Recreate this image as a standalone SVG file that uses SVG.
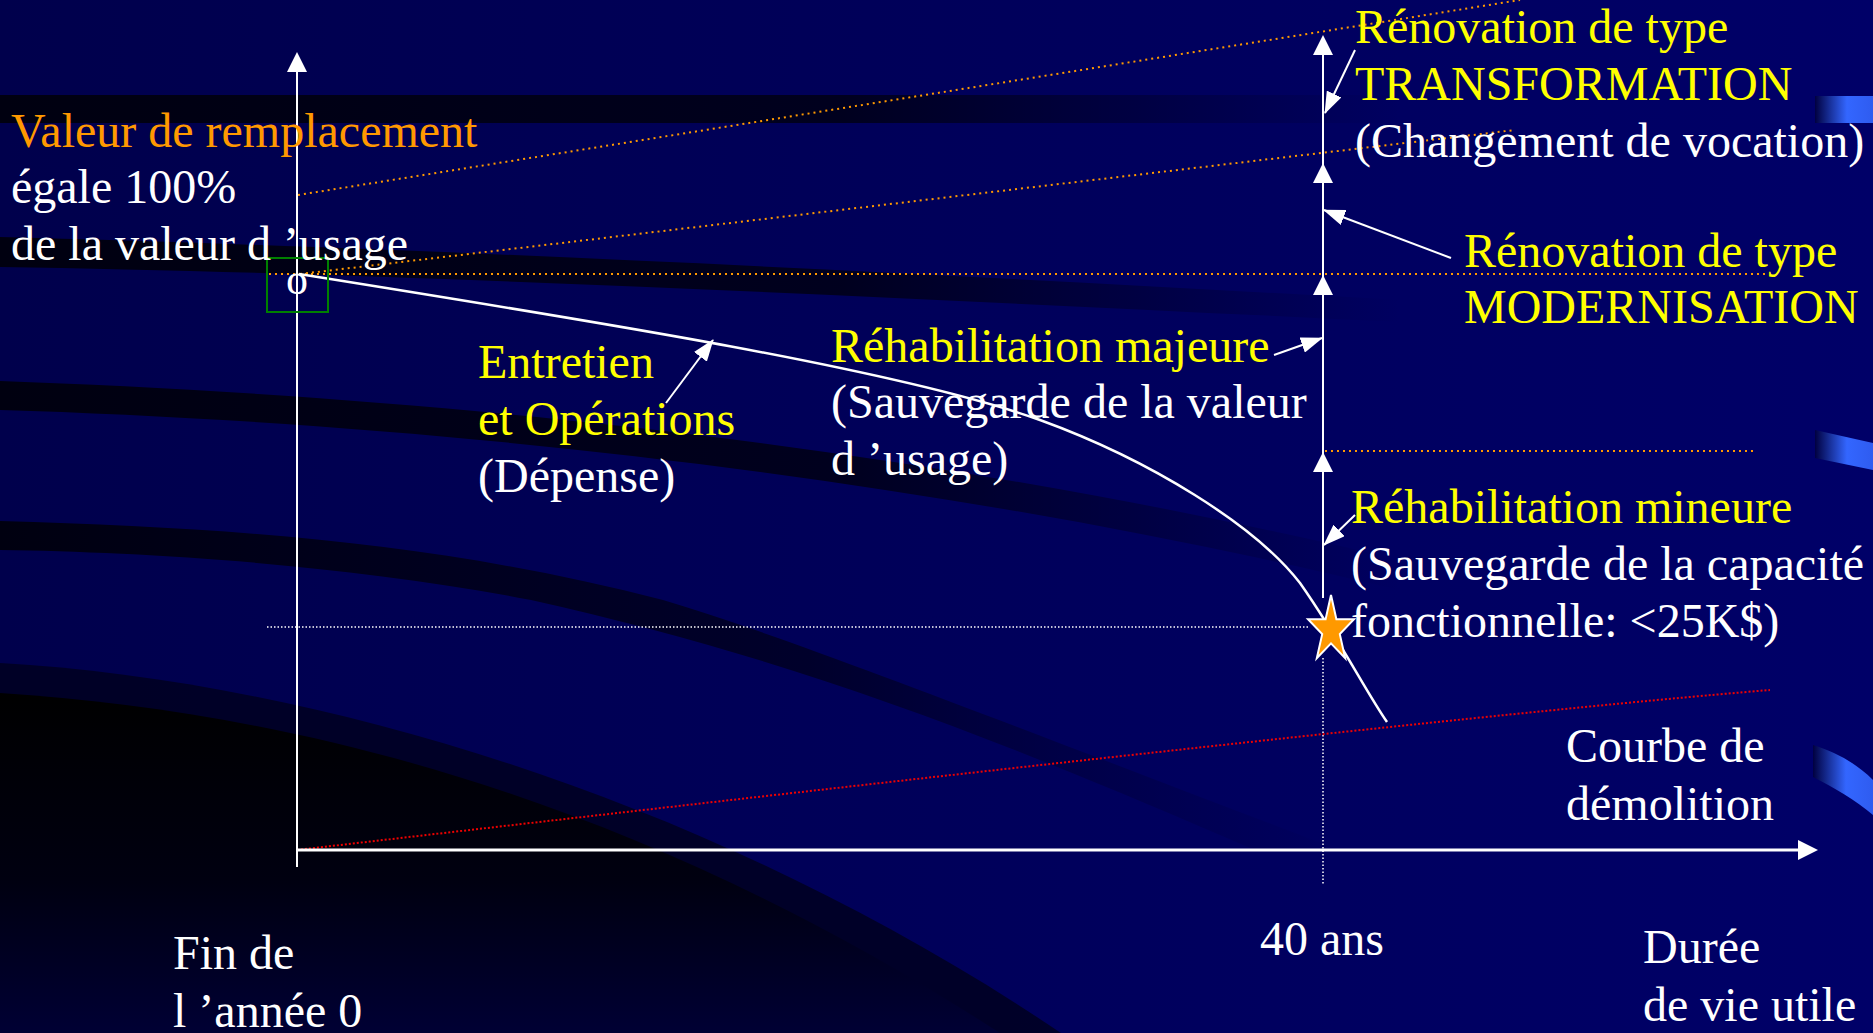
<svg xmlns="http://www.w3.org/2000/svg" width="1873" height="1033" viewBox="0 0 1873 1033" font-family="Liberation Serif, DejaVu Serif, serif">
<defs>
<style>
text{font-family:'Liberation Serif','DejaVu Serif',serif;font-size:48px}
.y{fill:#FFFF00}
.w{fill:#FFFFFF}
.o{fill:#FF9900}
.ln{stroke:#FFFFFF;fill:none}
.ptr{stroke:#FFFFFF;stroke-width:2;fill:none;marker-end:url(#ah)}
.dotO{stroke:#FF9900;stroke-width:2;stroke-dasharray:2 4;fill:none}
.dotW{stroke:#FFFFFF;stroke-width:1.5;stroke-dasharray:1.5 2;fill:none}
.dotR{stroke:#EE0000;stroke-width:2;stroke-dasharray:2 2;fill:none}
.head{fill:#FFFFFF}
</style>
<marker id="ah" viewBox="0 0 22 16" refX="21" refY="8" markerUnits="userSpaceOnUse" markerWidth="22" markerHeight="16" orient="auto">
<path d="M0,0 L22,8 L0,16 Z" fill="#FFFFFF"/>
</marker>
<linearGradient id="bg" x1="0" y1="0" x2="1" y2="0">
<stop offset="0" stop-color="#00004C"/>
<stop offset="1" stop-color="#000068"/>
</linearGradient>
<linearGradient id="band" x1="0" y1="0" x2="1" y2="0">
<stop offset="0" stop-color="#000010" stop-opacity="1"/>
<stop offset="0.6" stop-color="#000014" stop-opacity="0.85"/>
<stop offset="1" stop-color="#000020" stop-opacity="0"/>
</linearGradient>
<linearGradient id="band4" gradientUnits="userSpaceOnUse" x1="0" y1="0" x2="1350" y2="0">
<stop offset="0" stop-color="#000010" stop-opacity="1"/>
<stop offset="0.6" stop-color="#000018" stop-opacity="0.7"/>
<stop offset="1" stop-color="#000030" stop-opacity="0"/>
</linearGradient>
<linearGradient id="big" gradientUnits="userSpaceOnUse" x1="0" y1="690" x2="0" y2="1033">
<stop offset="0" stop-color="#000000"/>
<stop offset="0.55" stop-color="#000010"/>
<stop offset="1" stop-color="#000034"/>
</linearGradient>
<linearGradient id="blue" x1="0" y1="0" x2="1" y2="0">
<stop offset="0" stop-color="#000040"/>
<stop offset="0.55" stop-color="#3366FF"/>
<stop offset="1" stop-color="#2F5CF0"/>
</linearGradient>
</defs>

<g id="background">
<rect x="0" y="0" width="1873" height="1033" fill="url(#bg)"/>
<rect x="0" y="95" width="1400" height="28" fill="url(#band)"/>
<path d="M0,237 C400,247 900,272 1400,300 L1400,322 C900,298 400,273 0,267 Z" fill="url(#band)"/>
<path d="M0,381 C400,395 900,440 1400,560 L1400,590 C900,470 400,422 0,410 Z" fill="url(#band)"/>
<path d="M0,521 C250,528 450,545 663,600 C800,640 1100,760 1340,850 L1255,850 C1000,740 800,660 531,600 C350,565 150,552 0,550 Z" fill="url(#band4)"/>
<path d="M0,663 C300,680 700,790 1061,1033 L0,1033 Z" fill="#000020" fill-opacity="0.85"/>
<path d="M0,693 C300,712 640,800 1000,1033 L0,1033 Z" fill="url(#big)"/>
<rect x="1815" y="96" width="58" height="27" fill="url(#blue)"/>
<path d="M1815,430 L1873,443 L1873,470 L1815,458 Z" fill="url(#blue)"/>
<path d="M1813,745 C1835,752 1855,762 1873,780 L1873,815 C1855,800 1835,788 1813,777 Z" fill="url(#blue)"/>
</g>

<g id="guides">
<line class="dotO" x1="298" y1="195" x2="1520" y2="0"/>
<line class="dotO" x1="300" y1="274" x2="1515" y2="130"/>
<line class="dotO" x1="269" y1="274" x2="1766" y2="274"/>
<line class="dotO" x1="1325" y1="451" x2="1756" y2="451"/>
<line class="dotW" x1="267" y1="627" x2="1310" y2="627"/>
<line class="dotW" x1="1323" y1="658" x2="1323" y2="884"/>
<path class="dotR" d="M297,850 C900,780 1500,712 1770,690"/>
</g>

<g id="axes">
<line class="ln" stroke-width="2" x1="297" y1="68" x2="297" y2="867"/>
<polygon class="head" points="287,72 297,52 307,72"/>
<line class="ln" stroke-width="3" x1="297" y1="850" x2="1802" y2="850"/>
<polygon class="head" points="1798,840 1818,850 1798,860"/>
</g>

<g id="connectors">
<path class="ln" stroke-width="2.5" d="M299,274 C600,322 900,370 1040,420 C1150,460 1255,525 1300,583 C1340,640 1365,690 1387,722"/>
<line class="ln" stroke-width="2" x1="1323" y1="45" x2="1323" y2="598"/>
<polygon class="head" points="1313,55 1323,35 1333,55"/>
<polygon class="head" points="1313,183 1323,163 1333,183"/>
<polygon class="head" points="1313,295 1323,275 1333,295"/>
<polygon class="head" points="1313,472 1323,452 1333,472"/>
<line class="ptr" x1="666" y1="403" x2="713" y2="340"/>
<line class="ptr" x1="1274" y1="355" x2="1322" y2="338"/>
<line class="ptr" x1="1355" y1="515" x2="1324" y2="545"/>
<line class="ptr" x1="1451" y1="258" x2="1324" y2="210"/>
<line class="ptr" x1="1355" y1="50" x2="1325" y2="113"/>
</g>

<g id="origin">
<rect x="267" y="258" width="61" height="54" fill="none" stroke="#008000" stroke-width="2"/>
<text class="w" x="297" y="294" text-anchor="middle" font-size="44" style="font-size:44px">o</text>
</g>

<g id="star">
<polygon points="1331,595 1336.4,619.2 1354,619.2 1339.8,634.1 1345.2,658.3 1331,643.4 1316.8,658.3 1322.2,634.1 1308,619.2 1325.6,619.2" fill="#FF9900" stroke="#FFFFFF" stroke-width="2"/>
</g>

<g id="valeur" font-family="Liberation Serif, serif">
<text class="o" x="11" y="147">Valeur de remplacement</text>
<text class="w" x="11" y="203">égale 100%</text>
<text class="w" x="11" y="260">de la valeur d ’usage</text>
</g>

<g id="entretien">
<text class="y" x="478" y="378">Entretien</text>
<text class="y" x="478" y="435">et Opérations</text>
<text class="w" x="478" y="492">(Dépense)</text>
</g>

<g id="rehab-majeure">
<text class="y" x="831" y="362">Réhabilitation majeure</text>
<text class="w" x="831" y="418">(Sauvegarde de la valeur</text>
<text class="w" x="831" y="475">d ’usage)</text>
</g>

<g id="transformation">
<text class="y" x="1355" y="43">Rénovation de type</text>
<text class="y" x="1355" y="100">TRANSFORMATION</text>
<text class="w" x="1355" y="157">(Changement de vocation)</text>
</g>

<g id="modernisation">
<text class="y" x="1464" y="267">Rénovation de type</text>
<text class="y" x="1464" y="323">MODERNISATION</text>
</g>

<g id="rehab-mineure">
<text class="y" x="1351" y="523">Réhabilitation mineure</text>
<text class="w" x="1351" y="580">(Sauvegarde de la capacité</text>
<text class="w" x="1351" y="637">fonctionnelle: &lt;25K$)</text>
</g>

<g id="demolition">
<text class="w" x="1566" y="762">Courbe de</text>
<text class="w" x="1566" y="820">démolition</text>
</g>

<g id="labels-x">
<text class="w" x="173" y="969">Fin de</text>
<text class="w" x="173" y="1027">l ’année 0</text>
<text class="w" x="1260" y="955">40 ans</text>
<text class="w" x="1643" y="963">Durée</text>
<text class="w" x="1643" y="1021">de vie utile</text>
</g>
</svg>
